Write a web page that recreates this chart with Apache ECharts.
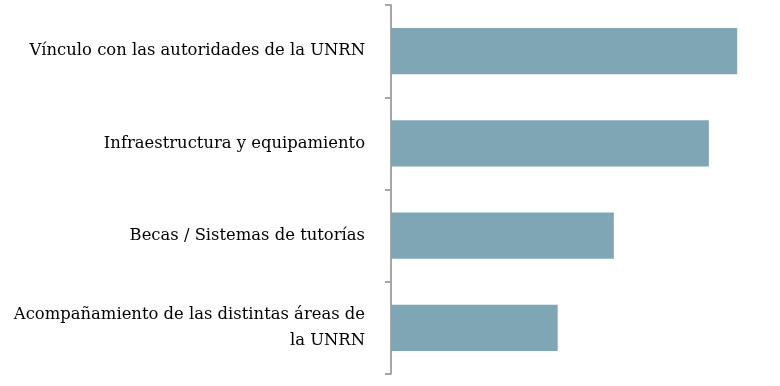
<!DOCTYPE html>
<html><head><meta charset="utf-8">
<script src="https://cdn.jsdelivr.net/npm/echarts@6/dist/echarts.min.js"></script>
<style>html,body{margin:0;padding:0;background:#fff}#c{width:780px;height:386px}</style>
</head><body><div id="c"></div>
<script>
const categories = [
  'Vínculo con las autoridades de la UNRN',
  'Infraestructura y equipamiento',
  'Becas / Sistemas de tutorías',
  'Acompañamiento de las distintas áreas de\nla UNRN'
];
const values = [62.3, 57.2, 40.1, 30.0];

const chart = echarts.init(document.getElementById('c'));
chart.setOption({
  animation: false,
  grid: { left: 391, right: 0, top: 5, bottom: 12, containLabel: false },
  xAxis: { type: 'value', min: 0, max: 70, show: false },
  yAxis: {
    type: 'category', data: categories, inverse: true,
    axisLine: { lineStyle: { color: '#a6a6a6', width: 2 } },
    axisTick: { show: true, length: 6, lineStyle: { color: '#a6a6a6', width: 2 } },
    axisLabel: { margin: 26, color: '#000', fontFamily: 'DejaVu Serif', fontSize: 16.4, lineHeight: 26, align: 'right' }
  },
  series: [{ type: 'bar', data: values, barWidth: '50%', itemStyle: { color: '#7fa6b4' } }]
});
</script></body></html>
